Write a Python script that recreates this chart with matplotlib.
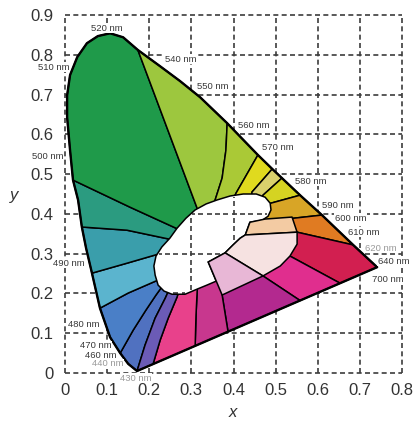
import numpy as np
import matplotlib
matplotlib.use("Agg")
import matplotlib.pyplot as plt
from matplotlib.path import Path
from matplotlib.collections import LineCollection

# ---------------- data ----------------
# spectral locus (CIE x, y): from the blue end, up the left side, over the top, down to the red end
locus_x = [0.171, 0.150, 0.131, 0.107, 0.083, 0.064, 0.050, 0.040, 0.031, 0.019, 0.012,
           0.005, 0.005, 0.012, 0.029, 0.052, 0.078, 0.107, 0.138, 0.173, 0.226, 0.273,
           0.321, 0.385, 0.458, 0.492, 0.515, 0.558, 0.610, 0.684, 0.741]
locus_y = [0.005, 0.023, 0.050, 0.090, 0.163, 0.251, 0.314, 0.367, 0.435, 0.485, 0.560,
           0.643, 0.698, 0.749, 0.794, 0.829, 0.847, 0.854, 0.844, 0.812, 0.771, 0.734,
           0.693, 0.628, 0.548, 0.513, 0.490, 0.447, 0.397, 0.322, 0.266]
# where region borders meet the purple line (red end -> blue end)
purple_x = [0.653, 0.558, 0.387, 0.309, 0.209]

# region borders: index on the outer boundary + inner x / y lists
border_idx = [0, 2, 4, 5, 7, 9, 19, 23, 24, 25, 26, 27, 28, 29, 31, 32, 33, 34, 35]
border_x = [
    [0.190, 0.214, 0.238, 0.247],
    [0.162, 0.192, 0.216, 0.233],
    [0.150, 0.226],
    [0.147, 0.238],
    [0.147, 0.259],
    [0.154, 0.278],
    [0.318],
    [0.382, 0.373, 0.354, 0.349],
    [0.406, 0.401],
    [0.444, 0.442],
    [0.470, 0.468],
    [0.489, 0.480],
    [0.542, 0.530],
    [0.551, 0.539],
    [0.534, 0.523],
    [0.470, 0.456],
    [0.373, 0.375],
    [0.311, 0.314, 0.316],
    [0.226, 0.245, 0.266, 0.271],
]
border_y = [
    [0.070, 0.138, 0.188, 0.209],
    [0.108, 0.158, 0.196, 0.221],
    [0.201, 0.236],
    [0.276, 0.304],
    [0.359, 0.334],
    [0.417, 0.357],
    [0.402],
    [0.560, 0.490, 0.427, 0.415],
    [0.452, 0.440],
    [0.455, 0.440],
    [0.447, 0.435],
    [0.427, 0.420],
    [0.389, 0.379],
    [0.354, 0.344],
    [0.294, 0.289],
    [0.244, 0.246],
    [0.196, 0.209],
    [0.146, 0.211, 0.224],
    [0.083, 0.138, 0.191, 0.209],
]
center_xy = (0.380, 0.334)

# colours of the outer regions, between consecutive borders
region_colors = ['#5071c0', '#4a7fc7', '#5bb4ce', '#3a9eab', '#2b9b80', '#1f9a4a',
                 '#9dc73e', '#aac936', '#e0da1e', '#d9d16c', '#d5d322', '#d8a526',
                 '#e07b22', '#d21f50', '#e02e8e', '#b3298f', '#c8378e', '#e8418b',
                 '#6b5bb6']

# inner (light) regions
white_x = [0.211, 0.216, 0.230, 0.249, 0.266, 0.287, 0.309, 0.335, 0.361, 0.392, 0.423,
           0.454, 0.475, 0.487, 0.489, 0.482, 0.468, 0.439, 0.428, 0.416, 0.399, 0.380,
           0.340, 0.359, 0.337, 0.314, 0.285, 0.254, 0.235, 0.221, 0.214]
white_y = [0.269, 0.294, 0.317, 0.339, 0.364, 0.389, 0.410, 0.425, 0.435, 0.445, 0.450,
           0.450, 0.442, 0.427, 0.410, 0.394, 0.384, 0.379, 0.347, 0.339, 0.322, 0.302,
           0.279, 0.231, 0.221, 0.211, 0.198, 0.198, 0.206, 0.221, 0.246]
peach_x = [0.439, 0.475, 0.539, 0.551, 0.428]
peach_y = [0.379, 0.387, 0.392, 0.354, 0.347]
palepink_x = [0.428, 0.551, 0.551, 0.534, 0.511, 0.470, 0.380, 0.399, 0.416]
palepink_y = [0.347, 0.354, 0.324, 0.294, 0.269, 0.244, 0.302, 0.322, 0.339]
lavender_x = [0.340, 0.380, 0.470, 0.373]
lavender_y = [0.279, 0.302, 0.244, 0.196]

# wavelength labels (left edge x, centre y)
wl_text = ['520 nm', '510 nm', '540 nm', '550 nm', '560 nm', '570 nm', '580 nm', '590 nm',
           '600 nm', '610 nm', '620 nm', '640 nm', '700 nm', '500 nm', '490 nm', '480 nm',
           '470 nm', '460 nm', '440 nm', '430 nm']
wl_x = [0.062, -0.064, 0.238, 0.314, 0.411, 0.468, 0.546, 0.610, 0.641, 0.672, 0.713,
        0.743, 0.729, -0.078, -0.029, 0.007, 0.036, 0.048, 0.064, 0.131]
wl_y = [0.867, 0.769, 0.789, 0.721, 0.621, 0.568, 0.482, 0.422, 0.389, 0.354, 0.314,
        0.281, 0.234, 0.545, 0.276, 0.123, 0.068, 0.043, 0.023, -0.013]
wl_faded = ['620 nm', '440 nm', '430 nm']

x_ticks = [0, 0.1, 0.2, 0.3, 0.4, 0.5, 0.6, 0.7, 0.8]
x_labels = ['0', '0.1', '0.2', '0.3', '0.4', '0.5', '0.6', '0.7', '0.8']
y_ticks = [0, 0.1, 0.2, 0.3, 0.4, 0.5, 0.6, 0.7, 0.8, 0.9]
y_labels = ['0', '0.1', '0.2', '0.3', '0.4', '0.5', '0.6', '0.7', '0.8', '0.9']

# ---------------- drawing ----------------
plt.rcParams['font.family'] = ['Liberation Sans', 'DejaVu Sans']

fig = plt.figure(figsize=(4.15, 4.23), dpi=100)
ax = fig.add_axes([65 / 415, 50 / 423, 337 / 415, 358 / 423])
ax.set_xlim(0, 0.8)
ax.set_ylim(0, 0.9)
for s in ax.spines.values():
    s.set_visible(False)

purple_y = [float(v) for v in np.interp(purple_x, [locus_x[0], locus_x[-1]],
                                        [locus_y[0], locus_y[-1]])]
bx = locus_x + purple_x
by = locus_y + purple_y
nb = len(bx)

GRID_COLOR = '#3c3c3c'
GRID_LW = 1.2
GRID_DASH = (0, (3, 2))

# full grid, behind everything
for xv in x_ticks:
    ax.plot([xv, xv], [0, 0.9], color=GRID_COLOR, lw=GRID_LW, ls=GRID_DASH,
            zorder=0.5, clip_on=False)
for yv in y_ticks:
    ax.plot([0, 0.8], [yv, yv], color=GRID_COLOR, lw=GRID_LW, ls=GRID_DASH,
            zorder=0.5, clip_on=False)

nbd = len(border_idx)
for k in range(nbd):
    ia = border_idx[k]
    ib = border_idx[(k + 1) % nbd]
    if ib <= ia:
        ib += nb
    pts = [(bx[i % nb], by[i % nb]) for i in range(ia, ib + 1)]
    kb = (k + 1) % nbd
    pts += list(zip(border_x[kb], border_y[kb]))
    pts += [center_xy]
    pts += list(zip(border_x[k], border_y[k]))[::-1]
    ax.fill([p[0] for p in pts], [p[1] for p in pts], fc=region_colors[k], ec='black',
            lw=1.1, joinstyle='round', zorder=2)

ax.fill(white_x, white_y, fc='white', ec='none', zorder=3)

# grid seen through the white centre, drawn as individual solid dash pieces
white_path = Path(np.column_stack([white_x, white_y]))
tt = np.linspace(0.0005, 0.9995, 2000)
# dash period / length in data units (5 px on, 3.3 px off)
v_period, v_on = 8.33 * 0.9 / 358, 5.0 * 0.9 / 358
h_period, h_on = 8.33 * 0.8 / 337, 5.0 * 0.8 / 337


def inside_runs(px, py):
    m = white_path.contains_points(np.column_stack([px, py])).astype(int)
    d = np.diff(np.concatenate([[0], m, [0]]))
    return list(zip(np.where(d == 1)[0], np.where(d == -1)[0] - 1))


dash_segs = []
for xv in x_ticks:
    gx = np.full_like(tt, float(xv))
    gy = tt * 0.9
    for s0, e0 in inside_runs(gx, gy):
        lo, hi = float(gy[s0]) + 0.004, float(gy[e0]) - 0.004
        p = np.floor(lo / v_period) * v_period
        while p < hi:
            a, b = max(p, lo), min(p + v_on, hi)
            if b > a:
                dash_segs.append([(float(xv), a), (float(xv), b)])
            p += v_period
for yv in y_ticks:
    gx = tt * 0.8
    gy = np.full_like(tt, float(yv))
    for s0, e0 in inside_runs(gx, gy):
        lo, hi = float(gx[s0]) + 0.004, float(gx[e0]) - 0.004
        p = np.floor(lo / h_period) * h_period
        while p < hi:
            a, b = max(p, lo), min(p + h_on, hi)
            if b > a:
                dash_segs.append([(a, float(yv)), (b, float(yv))])
            p += h_period
if dash_segs:
    ax.add_collection(LineCollection(dash_segs, colors=GRID_COLOR, linewidths=GRID_LW,
                                     capstyle='butt', zorder=3.2))

ax.fill(white_x, white_y, fill=False, ec='black', lw=1.1, zorder=3.4)

for rx, ry, c in [(peach_x, peach_y, '#f3cba3'), (palepink_x, palepink_y, '#f6e2e1'),
                  (lavender_x, lavender_y, '#e8b7d6')]:
    ax.fill(rx, ry, fc=c, ec='black', lw=1.1, joinstyle='round', zorder=3.6)

ax.fill(bx, by, fill=False, ec='black', lw=1.7, joinstyle='round', zorder=3.8)

for t, xv, yv in zip(wl_text, wl_x, wl_y):
    col = '#9a9a9a' if t in wl_faded else '#383838'
    ax.text(xv, yv, t, fontsize=6.8, color=col, ha='left', va='center', zorder=11,
            clip_on=False, bbox=dict(fc='white', ec='none', pad=0.4))

ax.set_xticks(x_ticks, x_labels)
ax.set_yticks(y_ticks, y_labels)
ax.tick_params(axis='both', length=0, labelsize=12, labelcolor='#333333')
ax.tick_params(axis='x', pad=7)
ax.tick_params(axis='y', pad=8.5)

fig.text(233 / 415, 1 - 412 / 423, 'x', fontsize=12, style='italic', color='#333333',
         ha='center', va='center')
fig.text(14 / 415, 1 - 195 / 423, 'y', fontsize=12, style='italic', color='#333333',
         ha='center', va='center')

fig.savefig('out.png', dpi=100, facecolor='white')
